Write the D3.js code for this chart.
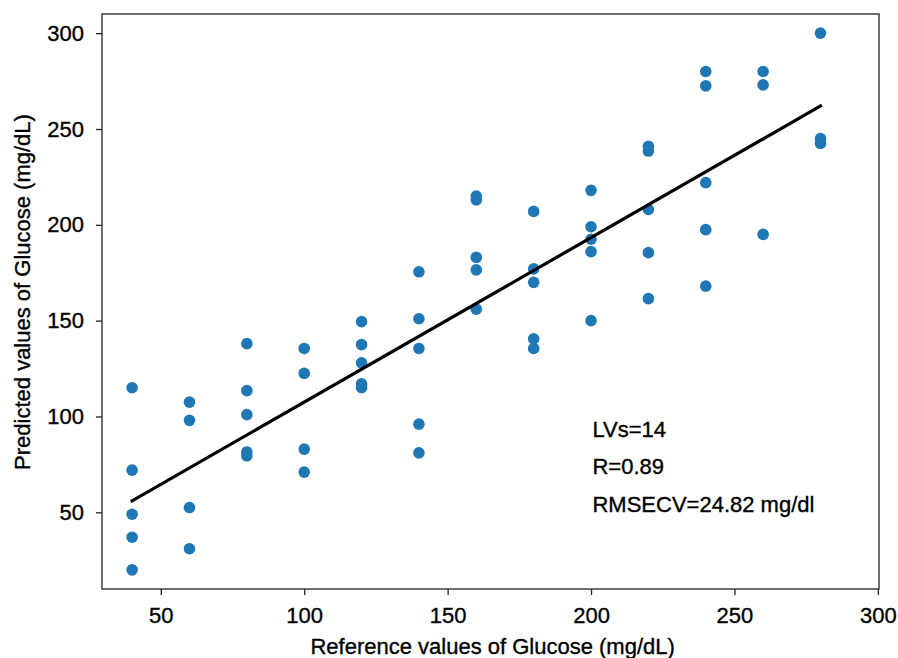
<!DOCTYPE html>
<html>
<head>
<meta charset='utf-8' />
<title>Glucose prediction</title>
<style>
  body{ margin:0; background:#fff; }
  text{ font-family: "Liberation Sans", Arial, Helvetica, sans-serif; fill:#000; stroke:#000; stroke-width:0.35px; }
</style>
</head>
<body>
<script src="https://d3js.org/d3.v7.min.js"></script>
<script>

// reference (x) and predicted (y) glucose values, mg/dL
const refValues = [
  40,40,40,40,40,
  60,60,60,60,
  80,80,80,80,80,
  100,100,100,100,
  120,120,120,120,120,
  140,140,140,140,140,
  160,160,160,160,160,
  180,180,180,180,180,
  200,200,200,200,200,
  220,220,220,220,220,
  240,240,240,240,240,
  260,260,260,
  280,280,280
]
const predValues = [
  115,72,49,37,20,
  107.5,98,52.5,31,
  138,113.5,101,81.5,79.5,
  135.5,122.5,83,71,
  149.5,137.5,128,117,115,
  175.5,151,135.5,96,81,
  215,213,183,176.5,156,
  207,177,170,140.5,135.5,
  218,199,192.5,186,150,
  241,238.5,208,185.5,161.5,
  280,272.5,222,197.5,168,
  280,273,195,
  300,245,242.5
]

// regression line end points
const fitX = [40, 280]
const fitY = [56, 262]

const xTicks = [50,100,150,200,250,300]
const yTicks = [50,100,150,200,250,300]

const notes = ['LVs=14', 'R=0.89', 'RMSECV=24.82 mg/dl']
const noteAt = [89.5, 70, 50]   // baseline, in y units

let width = 898, height = 658,
  margin = {top:14, right:19, bottom:69, left:102},
  w = width - margin.left - margin.right,
  h = height - margin.top - margin.bottom,
  fs = '22px'

let svg = d3.select('body').append('svg').attr('width',width).attr('height',height)
let g = svg.append('g').attr('transform','translate('+margin.left+','+margin.top+')')

let x = d3.scaleLinear().domain([29.5,300.4]).range([0,w]),
  y = d3.scaleLinear().domain([10,310]).range([h,0])

let xAxis = g.append('g').attr('transform','translate(0,'+h+')')
  .call(d3.axisBottom(x).tickValues(xTicks).tickSize(6).tickPadding(12))
let yAxis = g.append('g')
  .call(d3.axisLeft(y).tickValues(yTicks).tickSize(6).tickPadding(12))

;[xAxis,yAxis].forEach(a => {
  a.select('.domain').remove()
  a.selectAll('line').attr('stroke','#222').attr('stroke-width',1.3)
  a.selectAll('text').style('font-size',fs).style('font-family','"Liberation Sans", Arial, sans-serif').attr('fill','#000')
})

// frame
g.append('rect').attr('x',0).attr('y',0).attr('width',w).attr('height',h)
  .attr('fill','none').attr('stroke','#222').attr('stroke-width',1.3)

// points
g.append('g').selectAll('circle').data(refValues).enter().append('circle')
  .attr('cx', d => x(d))
  .attr('cy', (d,i) => y(predValues[i]))
  .attr('r',5.8)
  .attr('fill','#1f77b4')

// fit line
g.append('line')
  .attr('x1',x(fitX[0])).attr('y1',y(fitY[0]))
  .attr('x2',x(fitX[1])).attr('y2',y(fitY[1]))
  .attr('stroke','#000').attr('stroke-width',3.2).attr('stroke-linecap','square')

// annotations
g.append('g').selectAll('text').data(notes).enter().append('text')
  .attr('x', x(200.5))
  .attr('y', (d,i) => y(noteAt[i]))
  .style('font-size',fs)
  .text(d => d)

// axis labels
svg.append('text')
  .attr('x', margin.left + x(165.7))
  .attr('y', 654)
  .attr('text-anchor','middle')
  .style('font-size',fs)
  .text('Reference values of Glucose (mg/dL)')

svg.append('text')
  .attr('transform','translate(30,292) rotate(-90)')
  .attr('text-anchor','middle')
  .style('font-size',fs)
  .text('Predicted values of Glucose (mg/dL)')

</script>
</body>
</html>
